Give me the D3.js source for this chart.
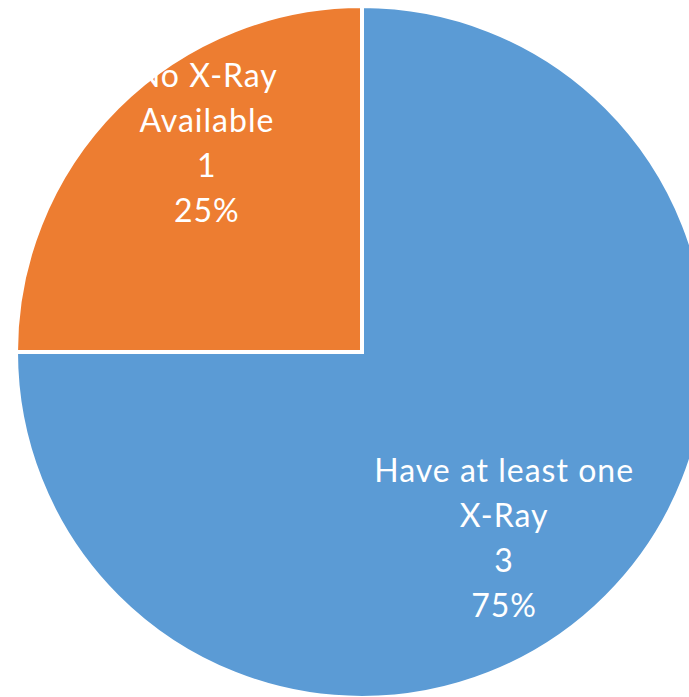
<!DOCTYPE html>
<html>
<head>
<meta charset="utf-8">
<script src="https://cdn.jsdelivr.net/npm/d3@7"></script>
<style>
  html, body { margin: 0; padding: 0; background: #ffffff; }
  svg { display: block; }
</style>
</head>
<body>
<svg id="chart" width="689" height="697"></svg>
<script>
// Data
const categories = ["Have at least one X-Ray", "No X-Ray Available"];
const values = [3, 1];
const percents = ["75%", "25%"];
const labelLines = [["Have at least one", "X-Ray"], ["No X-Ray", "Available"]];
const colors = ["#5B9BD5", "#ED7D31"];

const svg = d3.select("#chart");
const cx = 362, cy = 352, R = 346;
const g = svg.append("g").attr("transform", `translate(${cx},${cy})`);

const data = categories.map((c, i) => ({ name: c, value: values[i], pct: percents[i], lines: labelLines[i], color: colors[i] }));

const pie = d3.pie().value(d => d.value).sort(null);
const arcs = pie(data);
const arc = d3.arc().innerRadius(0).outerRadius(R);

g.selectAll("path.slice")
  .data(arcs)
  .enter().append("path")
  .attr("class", "slice")
  .attr("d", arc)
  .attr("fill", d => d.data.color)
  .attr("stroke", "#ffffff")
  .attr("stroke-width", 4)
  .attr("stroke-linejoin", "miter");

const fontSize = 32;
const lineH = 45;
const shift = 8 * Math.PI / 180;
const labelArc = d3.arc().innerRadius(247).outerRadius(247);

arcs.forEach(a => {
  const c = labelArc.centroid({ startAngle: a.startAngle + shift, endAngle: a.endAngle + shift });
  const lx = c[0] - 6.5;
  const lines = a.data.lines.concat([String(a.data.value), a.data.pct]);
  const t = g.append("text")
    .attr("text-anchor", "middle")
    .attr("fill", "#ffffff")
    .style("font-family", "Lato, 'Open Sans', sans-serif")
    .style("font-size", fontSize + "px")
    .style("letter-spacing", "1px");
  const n = lines.length;
  lines.forEach((ln, i) => {
    t.append("tspan")
      .attr("x", lx)
      .attr("y", c[1] + (i - (n - 1) / 2) * lineH)
      .text(ln);
  });
});
</script>
</body>
</html>
